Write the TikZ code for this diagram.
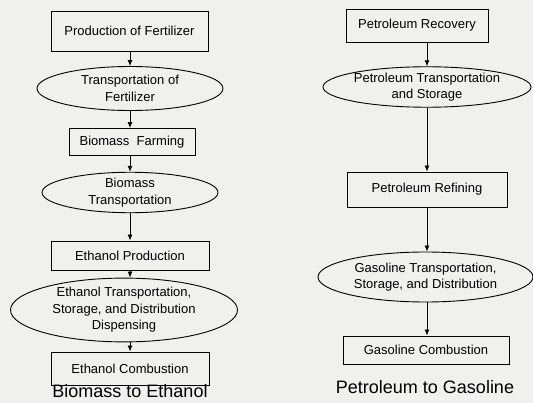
\documentclass[tikz,border=0pt]{standalone}
\usepackage{fontspec}
\setmainfont{Liberation Sans}
\usetikzlibrary{shapes.geometric, arrows.meta}
\definecolor{paper}{RGB}{240,240,236}
\tikzstyle{stage} = [draw, line width=0.9pt, rectangle, inner sep=0pt, font=\fontsize{13}{16}\selectfont]
\tikzstyle{move} = [draw, line width=0.9pt, ellipse, inner sep=0pt, align=center, font=\fontsize{13}{16.5}\selectfont]
\tikzstyle{flow} = [-{Latex[length=6pt,width=5pt]}, line width=0.9pt]
\tikzstyle{caption} = [anchor=base, font=\fontsize{18}{20}\selectfont]

\begin{document}
\begin{tikzpicture}[x=1pt, y=-1pt]
    % Page
    \fill[paper] (0,0) rectangle (533,403);
    \useasboundingbox (0,0) rectangle (533,403);

    % Biomass to ethanol chain
    \node[stage, minimum width=157, minimum height=40] (fertprod) at (129.5, 31) {Production of Fertilizer};
    \node[move, minimum width=186, minimum height=44] (ferttrans) at (130, 88.5) {Transportation of\\Fertilizer};
    \node[stage, minimum width=126, minimum height=27] (farming) at (132, 142) {Biomass\ \ Farming};
    \node[move, minimum width=176, minimum height=40] (biotrans) at (130, 192.5) {Biomass\\Transportation};
    \node[stage, minimum width=158, minimum height=29] (ethprod) at (130, 255.5) {Ethanol Production};
    \node[move, minimum width=227, minimum height=50] (ethtrans) at (124, 310) {Ethanol Transportation,\\Storage, and Distribution\\Dispensing};
    \node[stage, minimum width=158, minimum height=33] (ethcomb) at (130, 368.5) {Ethanol Combustion};
    \node[caption] (ethtitle) at (130, 397.5) {Biomass to Ethanol};

    \draw[flow] (fertprod.south -| ferttrans.north) -- (ferttrans.north);
    \draw[flow] (ferttrans.south) -- (ferttrans.south |- farming.north);
    \draw[flow] (farming.south -| biotrans.north) -- (biotrans.north);
    \draw[flow] (biotrans.south) -- (ethprod.north);
    \draw[flow] (ethprod.south) -- (ethprod.south |- ethtrans.north);
    \draw[flow] (ethtrans.south -| ethcomb.north) -- (ethcomb.north);

    % Petroleum to gasoline chain
    \node[stage, minimum width=142, minimum height=33] (recovery) at (417, 25.5) {Petroleum Recovery};
    \node[move, minimum width=208, minimum height=40] (pettrans) at (427, 87) {Petroleum Transportation\\and Storage};
    \node[stage, minimum width=160, minimum height=35] (refining) at (427, 189.5) {Petroleum Refining};
    \node[move, minimum width=215, minimum height=50] (gastrans) at (425.5, 277) {Gasoline Transportation,\\Storage, and Distribution};
    \node[stage, minimum width=166, minimum height=28] (gascomb) at (426, 350) {Gasoline Combustion};
    \node[caption] (gastitle) at (425, 393) {Petroleum to Gasoline};

    \draw[flow] (recovery.south -| pettrans.north) -- (pettrans.north);
    \draw[flow] (pettrans.south) -- (refining.north);
    \draw[flow] (refining.south) -- (refining.south |- gastrans.north);
    \draw[flow] (gastrans.south -| refining.south) -- (refining.south |- gascomb.north);
\end{tikzpicture}
\end{document}
